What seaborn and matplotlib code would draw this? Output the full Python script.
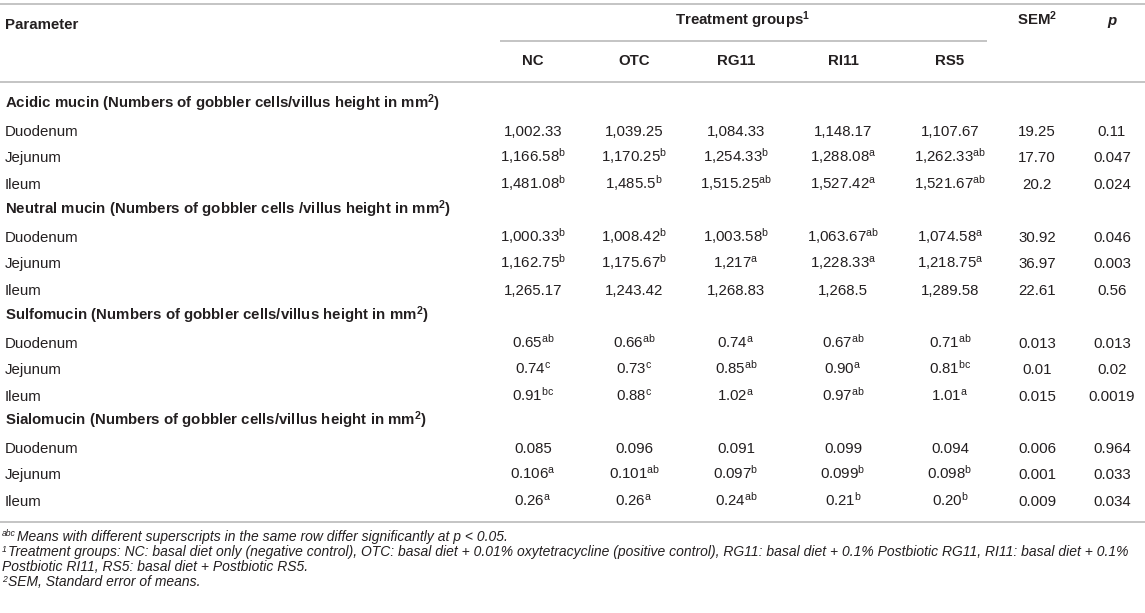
import matplotlib
matplotlib.use("Agg")
import matplotlib.pyplot as plt
import seaborn as sns

# ---------------- data ----------------
groups = ["NC", "OTC", "RG11", "RI11", "RS5"]
sections = [
    "Acidic mucin (Numbers of gobbler cells/villus height in mm$^{\\mathbf{2}}$)",
    "Neutral mucin (Numbers of gobbler cells /villus height in mm$^{\\mathbf{2}}$)",
    "Sulfomucin (Numbers of gobbler cells/villus height in mm$^{\\mathbf{2}}$)",
    "Sialomucin (Numbers of gobbler cells/villus height in mm$^{\\mathbf{2}}$)",
]
segments = ["Duodenum", "Jejunum", "Ileum"]

NC = ["1,002.33", "1,166.58^b", "1,481.08^b",
      "1,000.33^b", "1,162.75^b", "1,265.17",
      "0.65^ab", "0.74^c", "0.91^bc",
      "0.085", "0.106^a", "0.26^a"]
OTC = ["1,039.25", "1,170.25^b", "1,485.5^b",
       "1,008.42^b", "1,175.67^b", "1,243.42",
       "0.66^ab", "0.73^c", "0.88^c",
       "0.096", "0.101^ab", "0.26^a"]
RG11 = ["1,084.33", "1,254.33^b", "1,515.25^ab",
        "1,003.58^b", "1,217^a", "1,268.83",
        "0.74^a", "0.85^ab", "1.02^a",
        "0.091", "0.097^b", "0.24^ab"]
RI11 = ["1,148.17", "1,288.08^a", "1,527.42^a",
        "1,063.67^ab", "1,228.33^a", "1,268.5",
        "0.67^ab", "0.90^a", "0.97^ab",
        "0.099", "0.099^b", "0.21^b"]
RS5 = ["1,107.67", "1,262.33^ab", "1,521.67^ab",
       "1,074.58^a", "1,218.75^a", "1,289.58",
       "0.71^ab", "0.81^bc", "1.01^a",
       "0.094", "0.098^b", "0.20^b"]
SEM = ["19.25", "17.70", "20.2", "30.92", "36.97", "22.61",
       "0.013", "0.01", "0.015", "0.006", "0.001", "0.009"]
P = ["0.11", "0.047", "0.024", "0.046", "0.003", "0.56",
     "0.013", "0.02", "0.0019", "0.964", "0.033", "0.034"]

footnote_marks = ["abc", "1", "", "2"]
footnotes = [
    "Means with different superscripts in the same row differ significantly at p < 0.05.",
    "Treatment groups: NC: basal diet only (negative control), OTC: basal diet + 0.01% oxytetracycline (positive control), RG11: basal diet + 0.1% Postbiotic RG11, RI11: basal diet + 0.1%",
    "Postbiotic RI11, RS5: basal diet + Postbiotic RS5.",
    "SEM, Standard error of means.",
]

# ---------------- style ----------------
sns.set_theme(style="white")
plt.rcParams["font.family"] = ["Liberation Sans", "DejaVu Sans"]
plt.rcParams["mathtext.fontset"] = "custom"
plt.rcParams["mathtext.rm"] = "Liberation Sans"
plt.rcParams["mathtext.it"] = "Liberation Sans:italic"
plt.rcParams["mathtext.bf"] = "Liberation Sans:bold"

TXT = "#231f20"
LINE = "#b4b4b4"
FS = 10.8

W, H = 1145, 613
fig = plt.figure(figsize=(W / 100, H / 100), dpi=100)
ax = fig.add_axes([0, 0, 1, 1])
ax.set_xlim(0, W)
ax.set_ylim(H, 0)
ax.axis("off")


def sup(s):
    if "^" in s:
        v, l = s.split("^")
        return v + "$^{\\mathrm{" + l + "}}$"
    return s


col_x = [533, 634, 736, 843, 950]
sem_x, p_x = 1037, 1112
half = 4.6  # baseline offset from visual centre, px

# rules
lw = 1.1
ax.hlines(4, 0, W, color=LINE, lw=lw)
ax.hlines(41, 500, 987, color=LINE, lw=lw)
ax.hlines(82, 0, W, color=LINE, lw=lw)
ax.hlines(522, 0, W, color=LINE, lw=lw)

# header
ax.text(5, 24 + half, "Parameter", fontsize=FS, fontweight="bold", color=TXT, va="baseline")
ax.text(743, 20 + half, "Treatment groups$^{\\mathbf{1}}$", fontsize=FS, fontweight="bold",
        color=TXT, va="baseline", ha="center")
ax.text(sem_x, 20 + half, "SEM$^{\\mathbf{2}}$", fontsize=FS, fontweight="bold",
        color=TXT, va="baseline", ha="center")
ax.text(p_x, 20 + half, "p", fontsize=FS, fontweight="bold", fontstyle="italic",
        color=TXT, va="baseline", ha="center")
for g, x in zip(groups, col_x):
    ax.text(x, 60 + half, g, fontsize=FS, fontweight="bold", color=TXT,
            va="baseline", ha="center")

# body
sec_y = [103, 209, 315, 420]
offs = [28, 54, 81]
cols = [NC, OTC, RG11, RI11, RS5]
for si, (sec, sy) in enumerate(zip(sections, sec_y)):
    ax.text(5, sy + half, sec, fontsize=FS, fontweight="bold", color=TXT, va="baseline")
    for ri, (seg, off) in enumerate(zip(segments, offs)):
        idx = si * 3 + ri
        y = sy + off + half
        ax.text(5, y, seg, fontsize=FS, color=TXT, va="baseline")
        for col, x in zip(cols, col_x):
            ax.text(x, y, sup(col[idx]), fontsize=FS, color=TXT, va="baseline", ha="center")
        ax.text(sem_x, y, SEM[idx], fontsize=FS, color=TXT, va="baseline", ha="center")
        ax.text(p_x, y, P[idx], fontsize=FS, color=TXT, va="baseline", ha="center")

# footnotes (fit the long line to the table width)
fn_y = [541, 556, 571, 586]
fn_fs = 8.0
fig.canvas.draw()
r = fig.canvas.get_renderer()
probe = ax.text(2, 0, footnotes[1], fontsize=fn_fs, fontstyle="italic")
wpx = probe.get_window_extent(renderer=r).width
probe.remove()
fn_fs = fn_fs * 1132.0 / wpx
for m, t, y in zip(footnote_marks, footnotes, fn_y):
    x0 = 2
    if m:
        mt = ax.text(x0, y - 4.5, m, fontsize=fn_fs * 0.62, fontstyle="italic",
                     color=TXT, va="baseline")
        x0 += mt.get_window_extent(renderer=r).width + 1.0
    ax.text(x0, y, t, fontsize=fn_fs, fontstyle="italic", color=TXT, va="baseline")

fig.savefig("out.png", dpi=100)
